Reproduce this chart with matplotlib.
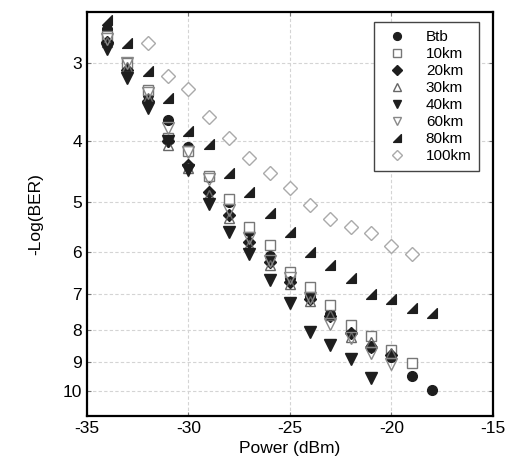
import numpy as np
import matplotlib.pyplot as plt
from matplotlib.path import Path
from matplotlib.ticker import FixedLocator, NullLocator

plt.rcParams['font.family'] = ['Liberation Sans', 'DejaVu Sans']
plt.rcParams['axes.unicode_minus'] = False

# received power (dBm) and -log10(BER) for each fibre length
p_btb = [-34, -33, -32, -31, -30, -29, -28, -27, -26, -25, -24, -23, -22, -21, -20, -19, -18]
ber_btb = [2.65, 3.0, 3.38, 3.70, 4.09, 4.57, 5.01, 5.57, 6.1, 6.6, 7.05, 7.55, 8.03, 8.5, 8.83, 9.47, 9.97]

p_10 = [-34, -33, -32, -31, -30, -29, -28, -27, -26, -25, -24, -23, -22, -21, -20, -19]
ber_10 = [2.72, 3.0, 3.32, 3.95, 4.15, 4.55, 4.95, 5.49, 5.86, 6.47, 6.84, 7.3, 7.86, 8.18, 8.61, 9.03]

p_20 = [-34, -33, -32, -31, -30, -29, -28, -27, -26, -25, -24, -23, -22, -21, -20]
ber_20 = [2.78, 3.08, 3.45, 4.0, 4.37, 4.83, 5.25, 5.8, 6.24, 6.7, 7.15, 7.6, 8.1, 8.51, 8.75]

p_30 = [-34, -33, -32, -31, -30, -29, -28, -27, -26, -25, -24, -23, -22, -21, -20]
ber_30 = [2.78, 3.05, 3.42, 4.06, 4.42, 4.87, 5.3, 5.85, 6.3, 6.75, 7.2, 7.57, 8.21, 8.36, 8.7]

p_40 = [-34, -33, -32, -31, -30, -29, -28, -27, -26, -25, -24, -23, -22, -21]
ber_40 = [2.85, 3.17, 3.55, 4.0, 4.45, 5.03, 5.59, 6.06, 6.66, 7.25, 8.06, 8.45, 8.9, 9.54]

p_60 = [-34, -33, -32, -31, -30, -29, -28, -27, -26, -25, -24, -23, -22, -21, -20]
ber_60 = [2.75, 3.0, 3.35, 3.81, 4.17, 4.6, 5.15, 5.7, 6.2, 6.6, 7.1, 7.83, 8.25, 8.71, 9.06]

p_80 = [-34, -33, -32, -31, -30, -29, -28, -27, -26, -25, -24, -23, -22, -21, -20, -19, -18]
ber_80 = [2.57, 2.79, 3.09, 3.42, 3.85, 4.04, 4.49, 4.83, 5.21, 5.59, 6.01, 6.31, 6.61, 7.01, 7.14, 7.38, 7.52]

p_100 = [-32, -31, -30, -29, -28, -27, -26, -25, -24, -23, -22, -21, -20, -19]
ber_100 = [2.79, 3.15, 3.31, 3.66, 3.95, 4.25, 4.49, 4.76, 5.06, 5.33, 5.49, 5.61, 5.88, 6.06]

# right-angled triangle marker for 80km
wedge = Path([(1, -1), (1, 1), (-1, -1), (1, -1)],
             [Path.MOVETO, Path.LINETO, Path.LINETO, Path.CLOSEPOLY])

fig = plt.figure(figsize=(5.08, 4.70), dpi=100)
ax = fig.add_axes([0.171, 0.115, 0.799, 0.86])

ms = 7
dark = '#1e1e1e'
ax.plot(p_btb, ber_btb, 'o', ms=ms, color=dark, label='Btb')
ax.plot(p_10, ber_10, 's', ms=ms, mfc='white', mec='#777777', mew=1.0, label='10km')
ax.plot(p_20, ber_20, 'D', ms=6, color=dark, label='20km')
ax.plot(p_30, ber_30, '^', ms=ms, mfc='none', mec='#666666', mew=1.0, label='30km')
ax.plot(p_40, ber_40, 'v', ms=ms + 1, color=dark, label='40km')
ax.plot(p_60, ber_60, 'v', ms=ms + 1, mfc='none', mec='#888888', mew=1.0, label='60km')
ax.plot(p_80, ber_80, marker=wedge, ls='none', ms=ms, color=dark, label='80km')
ax.plot(p_100, ber_100, 'D', ms=ms, mfc='white', mec='#aaaaaa', mew=1.0, label='100km')

ax.set_yscale('log')
ax.set_ylim(10.96, 2.49)
ax.yaxis.set_major_locator(FixedLocator([3, 4, 5, 6, 7, 8, 9, 10]))
ax.yaxis.set_minor_locator(NullLocator())
ax.set_yticklabels(['3', '4', '5', '6', '7', '8', '9', '10'])
ax.set_xlim(-35, -15)
ax.set_xticks([-35, -30, -25, -20, -15])

ax.grid(True, color='#d4d4d4', ls=(0, (3, 2)), lw=0.8)
ax.tick_params(direction='in', length=3, labelsize=12.5, top=True, right=True, color='#777777')
for s in ax.spines.values():
    s.set_linewidth(1.6)

ax.set_xlabel('Power (dBm)', fontsize=12.5, labelpad=4)
ax.set_ylabel('-Log(BER)', fontsize=12.5, labelpad=14)

leg = ax.legend(loc='upper right', bbox_to_anchor=(0.978, 0.985), fontsize=11,
                frameon=True, fancybox=False, edgecolor='#444444', framealpha=1,
                handletextpad=0.9, labelspacing=0.2, borderpad=0.5, handlelength=2.0,
                markerscale=0.8, borderaxespad=0.3)
leg.get_frame().set_linewidth(1.0)

plt.savefig('out.png', dpi=100)
